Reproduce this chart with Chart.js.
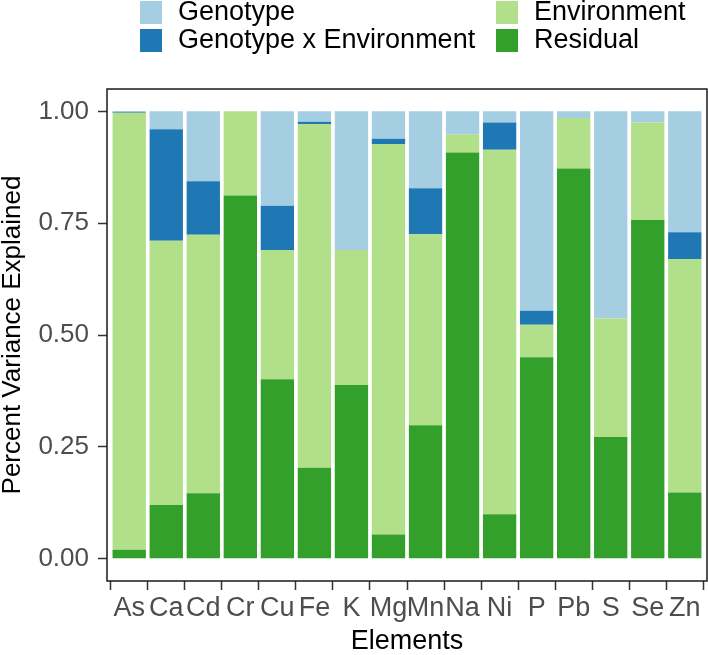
<!DOCTYPE html>
<html>
<head>
<meta charset="utf-8">
<script src="https://cdn.jsdelivr.net/npm/chart.js@4"></script>
<style>
  body { margin: 0; background: #fff; }
  canvas { display: block; }
</style>
</head>
<body>
<canvas id="chart" width="708" height="655"></canvas>
<script>
const elements = ["As", "Ca", "Cd", "Cr", "Cu", "Fe", "K", "Mg", "Mn", "Na", "Ni", "P", "Pb", "S", "Se", "Zn"];

// share of variance per element (stacked from the bottom: residual first)
const residual    = [0.020, 0.120, 0.146, 0.812, 0.401, 0.203, 0.388, 0.054, 0.298, 0.908, 0.099, 0.450, 0.872, 0.272, 0.757, 0.148];
const environment = [0.977, 0.591, 0.578, 0.188, 0.289, 0.769, 0.302, 0.873, 0.427, 0.041, 0.815, 0.073, 0.113, 0.265, 0.218, 0.522];
const gxe         = [0.002, 0.249, 0.120, 0.000, 0.099, 0.005, 0.000, 0.012, 0.103, 0.000, 0.061, 0.031, 0.000, 0.000, 0.000, 0.060];
const genotype    = [0.001, 0.040, 0.156, 0.000, 0.211, 0.023, 0.310, 0.061, 0.172, 0.051, 0.025, 0.446, 0.015, 0.463, 0.025, 0.270];

const yTicks = [0, 0.25, 0.5, 0.75, 1];

const colors = {
    "Genotype": "#a6cee3",
    "Genotype x Environment": "#1f78b4",
    "Environment": "#b2df8a",
    "Residual": "#33a02c"
};

// legend is laid out in two columns, read top to bottom
const legendColumns = [["Genotype", "Genotype x Environment"], ["Environment", "Residual"]];

function toPoints(values) {
    return values.map((v, i) => ({ x: i, y: v }));
}

function makeSet(label, values) {
    return {
        label: label,
        data: toPoints(values),
        backgroundColor: colors[label],
        borderWidth: 0,
        barPercentage: 0.9,
        categoryPercentage: 1
    };
}

const FONT = "'Liberation Sans', Arial, sans-serif";

const legendPlugin = {
    id: "twoColumnLegend",
    afterDraw(chart) {
        const ctx = chart.ctx;
        const colX = [140, 496];
        const rowY = [1, 29];
        ctx.save();
        ctx.font = "27px " + FONT;
        ctx.textBaseline = "middle";
        legendColumns.forEach((col, c) => {
            col.forEach((name, r) => {
                ctx.fillStyle = colors[name];
                ctx.fillRect(colX[c], rowY[r], 22, 23);
                ctx.fillStyle = "#000";
                ctx.fillText(name, colX[c] + 38, rowY[r] + 12);
            });
        });
        ctx.restore();
    }
};

const panelBorder = {
    id: "panelBorder",
    afterDraw(chart) {
        const a = chart.chartArea;
        const ctx = chart.ctx;
        ctx.save();
        ctx.strokeStyle = "#1a1a1a";
        ctx.lineWidth = 1.5;
        ctx.strokeRect(a.left, a.top, a.right - a.left, a.bottom - a.top);
        ctx.restore();
    }
};

new Chart(document.getElementById("chart"), {
    type: "bar",
    data: {
        datasets: [
            makeSet("Residual", residual),
            makeSet("Environment", environment),
            makeSet("Genotype x Environment", gxe),
            makeSet("Genotype", genotype)
        ]
    },
    options: {
        responsive: false,
        animation: false,
        layout: { padding: { top: 89, right: 1, left: 0, bottom: 0 } },
        plugins: {
            legend: { display: false },
            tooltip: { enabled: false }
        },
        scales: {
            x: {
                type: "linear",
                stacked: true,
                min: -0.6,
                max: elements.length - 0.4,
                offset: false,
                afterBuildTicks: (scale) => {
                    scale.ticks = elements.map((_, i) => ({ value: i }));
                },
                afterFit: (scale) => { scale.height = 74; },
                grid: {
                    drawOnChartArea: false,
                    tickLength: 9,
                    tickWidth: 1.5,
                    tickColor: "#333"
                },
                border: { display: false },
                ticks: {
                    autoSkip: false,
                    maxRotation: 0,
                    padding: 2,
                    color: "#4d4d4d",
                    font: { family: FONT, size: 27 },
                    callback: (value) => elements[value]
                },
                title: {
                    display: true,
                    text: "Elements",
                    color: "#000",
                    padding: { top: 1, bottom: 0 },
                    font: { family: FONT, size: 27, lineHeight: 1 }
                }
            },
            y: {
                stacked: true,
                min: -0.05,
                max: 1.05,
                afterBuildTicks: (scale) => {
                    scale.ticks = yTicks.map(v => ({ value: v }));
                },
                afterFit: (scale) => { scale.width = 107; },
                grid: {
                    drawOnChartArea: false,
                    tickLength: 9,
                    tickWidth: 1.5,
                    tickColor: "#333"
                },
                border: { display: false },
                ticks: {
                    padding: 9,
                    color: "#4d4d4d",
                    font: { family: FONT, size: 26 },
                    callback: (value) => value.toFixed(2)
                },
                title: {
                    display: true,
                    text: "Percent Variance Explained",
                    color: "#000",
                    padding: { top: 0, bottom: 0 },
                    font: { family: FONT, size: 26, lineHeight: 1 }
                }
            }
        }
    },
    plugins: [legendPlugin, panelBorder]
});
</script>
</body>
</html>
